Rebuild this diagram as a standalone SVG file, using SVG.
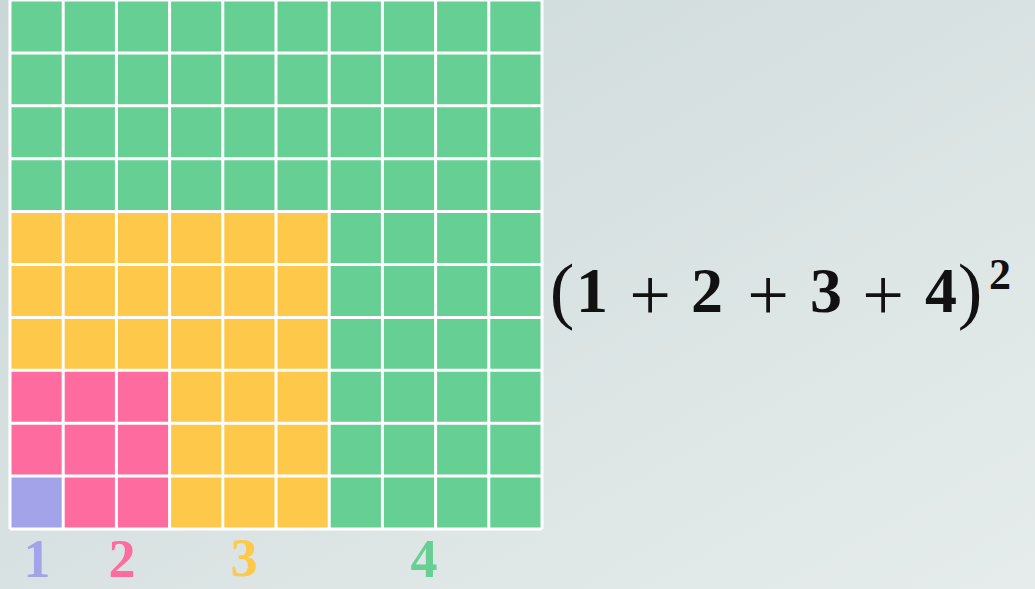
<svg xmlns="http://www.w3.org/2000/svg" width="1035" height="589" viewBox="0 0 1035 589">
<defs>
<linearGradient id="bg" x1="0" y1="0" x2="1" y2="1">
<stop offset="0" stop-color="#cad7d7"/>
<stop offset="0.5" stop-color="#d9e2e2"/>
<stop offset="1" stop-color="#e6ecec"/>
</linearGradient>
<style>
.gl{stroke:#ffffff;stroke-width:3;fill:none}
.lbl{font-family:"Liberation Serif",serif;font-weight:bold;font-size:54px;text-anchor:middle}
.f{font-family:"Liberation Serif",serif;font-weight:bold;font-size:64px;text-anchor:middle;fill:#111111}
.p{font-family:"Liberation Serif",serif;font-size:74px;text-anchor:middle;fill:#111111}
</style>
</defs>
<rect width="1035" height="589" fill="url(#bg)"/>
<g id="grid">
<rect id="green" x="10" y="0" width="532" height="529" fill="#66cf93"/>
<rect id="yellow" x="10" y="211.6" width="319.2" height="317.4" fill="#fec84a"/>
<rect id="pink" x="10" y="370.3" width="159.6" height="158.7" fill="#fe6c9f"/>
<rect id="purple" x="10" y="476.1" width="53.2" height="52.9" fill="#a2a3e8"/>
<path class="gl" d="M10 0V529M63.2 0V529M116.4 0V529M169.6 0V529M222.8 0V529M276 0V529M329.2 0V529M382.4 0V529M435.6 0V529M488.8 0V529M542 0V529M10 0H542M10 52.9H542M10 105.8H542M10 158.7H542M10 211.6H542M10 264.5H542M10 317.4H542M10 370.3H542M10 423.2H542M10 476.1H542M10 529H542"/>
</g>
<g id="labels">
<text class="lbl" x="37" y="577" fill="#a2a3e8">1</text>
<text class="lbl" x="122" y="577" fill="#fe6c9f">2</text>
<text class="lbl" x="244" y="576" fill="#fec84a">3</text>
<text class="lbl" x="424" y="577" fill="#66cf93">4</text>
</g>
<g id="formula">
<text class="p" x="562" y="315">(</text>
<text class="f" x="592" y="312">1</text>
<text class="p" x="650" y="320">+</text>
<text class="f" x="707" y="312">2</text>
<text class="p" x="768" y="320">+</text>
<text class="f" x="826" y="312">3</text>
<text class="p" x="883" y="320">+</text>
<text class="f" x="941" y="312">4</text>
<text class="p" x="970" y="315">)</text>
<text class="f" x="1000" y="289" style="font-size:44px">2</text>
</g>
</svg>
